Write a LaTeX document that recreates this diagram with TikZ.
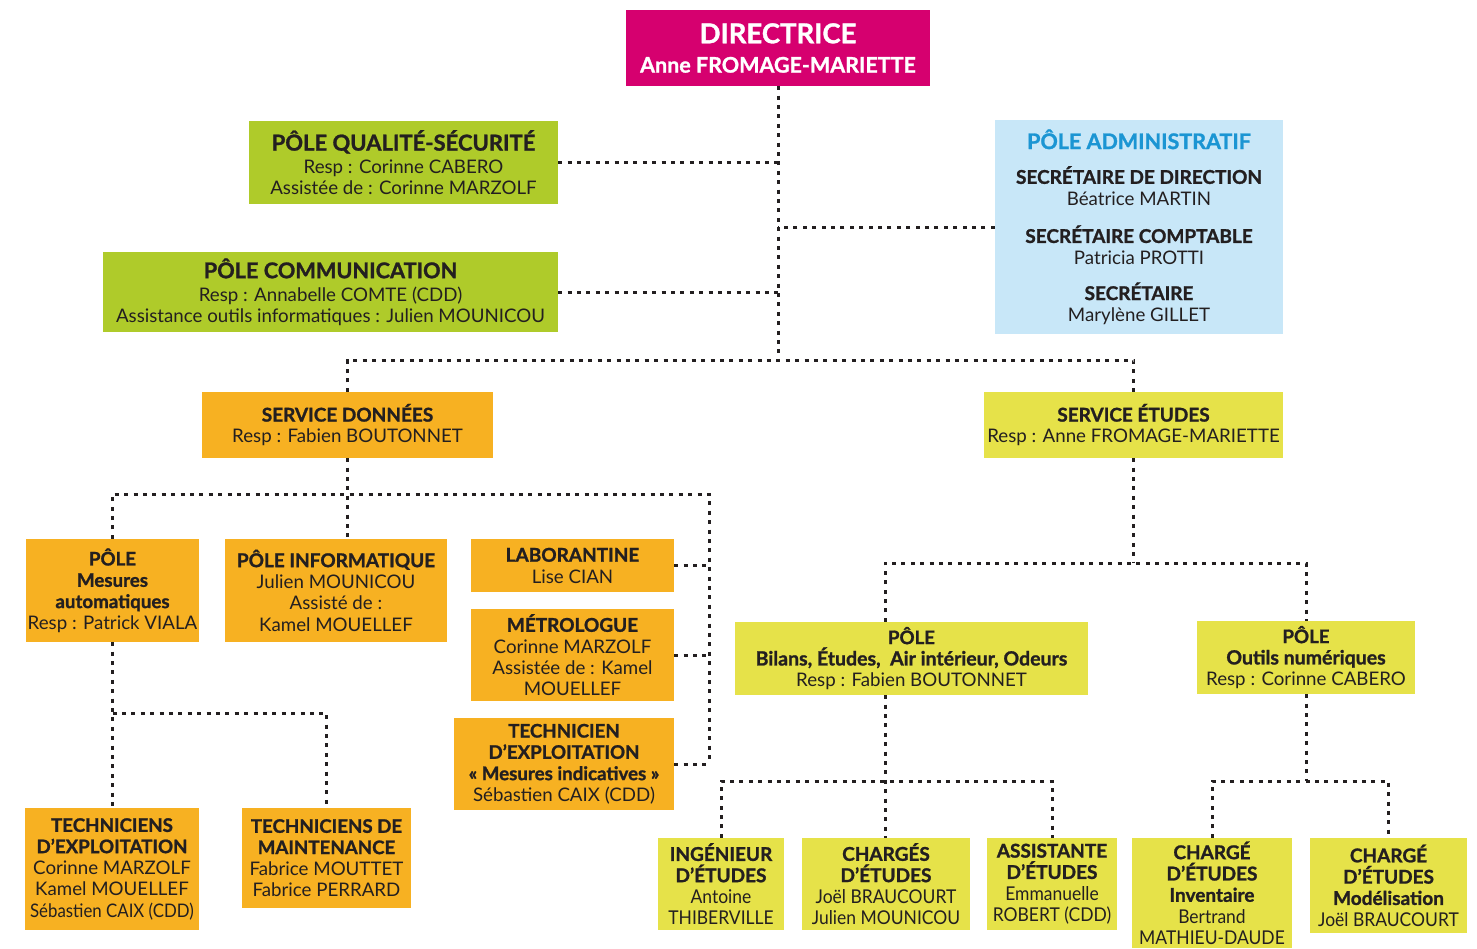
\documentclass[tikz,border=0pt]{standalone}
\usepackage{fontspec}
\setmainfont{Lato}[BoldFeatures={FakeBold=1.2}]
\newfontfamily\condfont{Lato}[FakeStretch=0.92]
\newfontfamily\condfontB{Lato}[FakeStretch=0.9]
\newcommand\cf[1]{{\condfont #1}}
\definecolor{magentaD}{HTML}{D6006F}
\definecolor{greenP}{HTML}{AFCB2A}
\definecolor{blueL}{HTML}{C8E7F8}
\definecolor{blueT}{HTML}{1B95D3}
\definecolor{orangeS}{HTML}{F7B122}
\definecolor{yellowS}{HTML}{E6E249}
\definecolor{txt}{HTML}{231F20}
\begin{document}
\begin{tikzpicture}[x=1pt,y=-1pt,
  box/.style={rectangle, inner sep=0pt, align=center, text=txt, font=\fontsize{18.7}{21.3}\selectfont},
  gbox/.style={box, fill=greenP},
  obox/.style={box, fill=orangeS},
  ybox/.style={box, fill=yellowS},
  cbox/.style={box, fill=yellowS, font=\fontsize{19}{21.3}\selectfont},
  conn/.style={line width=3pt, dash pattern=on 4pt off 5.4pt, draw=txt}]
\useasboundingbox (0,0) rectangle (1477,948);

% top
\node[box, fill=magentaD, text=white, minimum width=304pt, minimum height=76pt] (dir) at (778,48)
  {{\fontsize{27.5}{30}\selectfont\bfseries DIRECTRICE}\\[8pt]{\fontsize{21.5}{24}\selectfont\bfseries Anne FROMAGE-MARIETTE}};
\node[gbox, minimum width=309pt, minimum height=83pt] (qual) at (403.5,162.5)
  {{\fontsize{22}{22}\selectfont\bfseries PÔLE QUALITÉ-SÉCURITÉ}\\[1.5pt]Resp : Corinne CABERO\\Assistée de : Corinne MARZOLF};
\node[gbox, minimum width=455pt, minimum height=80pt] (comm) at (330.5,292)
  {{\fontsize{21.7}{22}\selectfont\bfseries PÔLE COMMUNICATION}\\[1.5pt]Resp : Annabelle COMTE (CDD)\\Assistance outils informatiques : Julien MOUNICOU};
\node[box, fill=blueL, minimum width=288pt, minimum height=214pt] (adm) at (1139,227)
  {{\fontsize{21.5}{22}\selectfont\bfseries\color{blueT}PÔLE ADMINISTRATIF}\\[13.5pt]
   {\fontsize{19}{21}\selectfont\bfseries SECRÉTAIRE DE DIRECTION}\\Béatrice MARTIN\\[16.5pt]
   {\fontsize{19}{21}\selectfont\bfseries SECRÉTAIRE COMPTABLE}\\Patricia PROTTI\\[14.5pt]
   {\fontsize{19}{21}\selectfont\bfseries SECRÉTAIRE}\\Marylène GILLET};

% services
\node[obox, minimum width=291pt, minimum height=66pt] (sd) at (347.5,425)
  {{\fontsize{19}{21}\selectfont\bfseries SERVICE DONNÉES}\\Resp : Fabien BOUTONNET};
\node[ybox, minimum width=299pt, minimum height=66pt] (se) at (1133.5,425)
  {{\fontsize{19}{21}\selectfont\bfseries SERVICE ÉTUDES}\\Resp : Anne FROMAGE-MARIETTE};

% left branch
\node[obox, minimum width=173pt, minimum height=103pt] (mes) at (112.5,590.5)
  {\bfseries PÔLE\\\bfseries Mesures\\\bfseries automatiques\\Resp : Patrick VIALA};
\node[obox, minimum width=222pt, minimum height=103pt] (inf) at (336,590.5)
  {{\fontsize{19}{21}\selectfont\bfseries PÔLE INFORMATIQUE}\\Julien MOUNICOU\\Assisté de :\\Kamel MOUELLEF};
\node[obox, minimum width=203pt, minimum height=53pt] (labo) at (572.5,565.5)
  {{\fontsize{19}{21}\selectfont\bfseries LABORANTINE}\\Lise CIAN};
\node[obox, minimum width=203pt, minimum height=92pt] (metro) at (572.5,655)
  {{\fontsize{19}{21}\selectfont\bfseries MÉTROLOGUE}\\Corinne MARZOLF\\Assistée de : Kamel\\MOUELLEF};
\node[obox, minimum width=220pt, minimum height=92pt] (tech) at (564,764)
  {\bfseries TECHNICIEN\\\bfseries D’EXPLOITATION\\\bfseries « Mesures indicatives »\\Sébastien CAIX (CDD)};
\node[obox, minimum width=174pt, minimum height=122pt] (texp) at (112,869)
  {\bfseries TECHNICIENS\\\bfseries D’EXPLOITATION\\Corinne MARZOLF\\Kamel MOUELLEF\\{\condfontB Sébastien CAIX (CDD)}};
\node[obox, minimum width=169pt, minimum height=100pt] (tmaint) at (326.5,858)
  {\bfseries TECHNICIENS DE\\\bfseries MAINTENANCE\\Fabrice MOUTTET\\Fabrice PERRARD};

% right branch
\node[ybox, minimum width=353pt, minimum height=73pt] (bil) at (911.5,658.5)
  {\bfseries PÔLE\\{\fontsize{19.5}{21}\selectfont\bfseries Bilans, Études,\ \ Air intérieur, Odeurs}\\Resp : Fabien BOUTONNET};
\node[ybox, minimum width=218pt, minimum height=73pt] (out) at (1306,657.5)
  {\bfseries PÔLE\\{\fontsize{19.5}{21}\selectfont\bfseries Outils numériques}\\Resp : Corinne CABERO};
\node[cbox, minimum width=126pt, minimum height=92pt] (ing) at (721,884)
  {\bfseries INGÉNIEUR\\\bfseries D’ÉTUDES\\\cf{Antoine}\\\cf{THIBERVILLE}};
\node[cbox, minimum width=168pt, minimum height=92pt] (chg) at (886,884)
  {\bfseries CHARGÉS\\\bfseries D’ÉTUDES\\\cf{Joël BRAUCOURT}\\\cf{Julien MOUNICOU}};
\node[cbox, minimum width=130pt, minimum height=92pt] (ass) at (1052,884)
  {\bfseries ASSISTANTE\\\bfseries D’ÉTUDES\\\cf{Emmanuelle}\\\cf{ROBERT (CDD)}};
\node[cbox, minimum width=160pt, minimum height=110pt] (inv) at (1212,893)
  {\bfseries CHARGÉ\\\bfseries D’ÉTUDES\\\bfseries Inventaire\\\cf{Bertrand}\\\cf{MATHIEU-DAUDE}};
\node[cbox, minimum width=157pt, minimum height=95pt] (mod) at (1388.5,885.5)
  {\bfseries CHARGÉ\\\bfseries D’ÉTUDES\\\bfseries Modélisation\\\cf{Joël BRAUCOURT}};

% junctions
\coordinate (j1) at (778,360);
\coordinate (j2) at (347.5,494);
\coordinate (j3) at (709,494);
\coordinate (j4) at (112.5,713);
\coordinate (j5) at (1133.5,563);
\coordinate (j6) at (885,781);
\coordinate (j7) at (1306,781);

% connectors
\draw[conn] (dir.south) -- (j1);
\draw[conn] (qual.east) -- (qual.east -| dir.south);
\draw[conn] (comm.east) -- (comm.east -| dir.south);
\draw[conn] (adm.west) -- (adm.west -| dir.south);
\draw[conn] (sd.north) -- (sd.north |- j1) -- (se.north |- j1) -- (se.north);
\draw[conn] (sd.south) -- (sd.south |- inf.north);
\draw[conn] (mes.north) -- (mes.north |- j2) -- (j3) -- (j3 |- tech.east);
\draw[conn] (labo.east) -- (labo.east -| j3);
\draw[conn] (metro.east) -- (metro.east -| j3);
\draw[conn] (tech.east) -- (tech.east -| j3);
\draw[conn] (mes.south) -- (mes.south |- texp.north);
\draw[conn] (j4) -- (j4 -| tmaint.north) -- (tmaint.north);
\draw[conn] (se.south) -- (j5);
\draw[conn] (j6 |- bil.north) -- (j6 |- j5) -- (out.north |- j5) -- (out.north);
\draw[conn] (j6 |- bil.south) -- (j6 |- chg.north);
\draw[conn] (ing.north) -- (ing.north |- j6) -- (ass.north |- j6) -- (ass.north);
\draw[conn] (out.south) -- (j7);
\draw[conn] (inv.north) -- (inv.north |- j7) -- (mod.north |- j7) -- (mod.north);
\end{tikzpicture}
\end{document}
